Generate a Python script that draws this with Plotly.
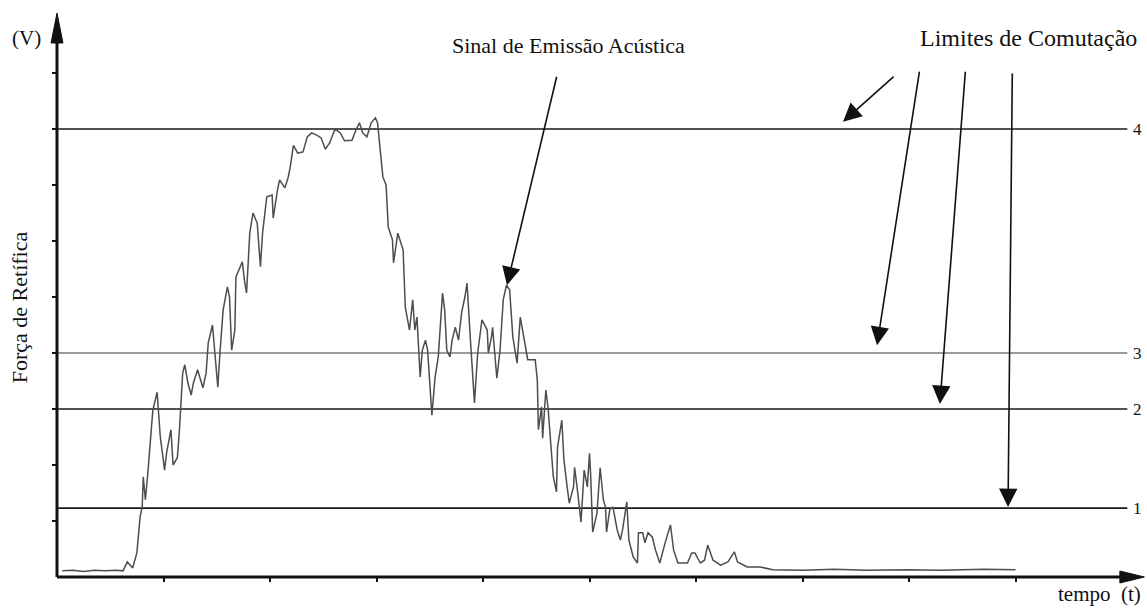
import plotly.graph_objects as go

# Rectified force signal (acoustic emission), time in arbitrary units, force in volts
tempo = [
    0.05, 0.15, 0.25, 0.35, 0.45, 0.55, 0.62, 0.66, 0.71, 0.75,
    0.78, 0.80, 0.81, 0.83, 0.85, 0.87, 0.90, 0.94, 0.95, 0.97,
    0.99, 1.01, 1.03, 1.07, 1.09, 1.13, 1.15, 1.16, 1.18, 1.20,
    1.23, 1.26, 1.28, 1.32, 1.37, 1.40, 1.42, 1.46, 1.48, 1.51,
    1.53, 1.56, 1.60, 1.62, 1.64, 1.67, 1.68, 1.74, 1.76, 1.78,
    1.81, 1.84, 1.88, 1.91, 1.93, 1.97, 2.02, 2.03, 2.07, 2.09,
    2.14, 2.17, 2.19, 2.22, 2.26, 2.31, 2.35, 2.39, 2.44, 2.48,
    2.52, 2.56, 2.61, 2.66, 2.70, 2.77, 2.80, 2.84, 2.87, 2.91,
    2.95, 2.99, 3.01, 3.03, 3.06, 3.09, 3.11, 3.15, 3.16, 3.20,
    3.25, 3.27, 3.31, 3.34, 3.36, 3.38, 3.41, 3.43, 3.46, 3.48,
    3.52, 3.55, 3.58, 3.62, 3.64, 3.66, 3.69, 3.71, 3.74, 3.77,
    3.80, 3.83, 3.85, 3.88, 3.92, 3.95, 3.99, 4.04, 4.05, 4.08,
    4.09, 4.13, 4.16, 4.19, 4.22, 4.25, 4.28, 4.30, 4.32, 4.35,
    4.38, 4.42, 4.49, 4.51, 4.52, 4.55, 4.56, 4.59, 4.61, 4.65,
    4.66, 4.69, 4.70, 4.74, 4.76, 4.79, 4.81, 4.85, 4.86, 4.89,
    4.92, 4.95, 4.98, 5.00, 5.01, 5.03, 5.07, 5.10, 5.13, 5.15,
    5.16, 5.19, 5.22, 5.26, 5.29, 5.31, 5.35, 5.37, 5.41, 5.45,
    5.46, 5.50, 5.52, 5.55, 5.59, 5.62, 5.66, 5.71, 5.76, 5.79,
    5.83, 5.92, 5.96, 5.99, 6.04, 6.08, 6.11, 6.16, 6.23, 6.30,
    6.36, 6.39, 6.48, 6.60, 6.72, 7.00, 7.30, 7.60, 8.00, 8.30,
    8.70, 9.00,
]
forca = [
    0.11, 0.12, 0.10, 0.12, 0.11, 0.12, 0.11, 0.27, 0.16, 0.43,
    1.07, 1.25, 1.79, 1.38, 1.79, 2.27, 2.98, 3.30, 2.98, 2.50,
    2.21, 1.91, 2.23, 2.63, 2.00, 2.13, 2.63, 3.04, 3.64, 3.79,
    3.46, 3.25, 3.46, 3.70, 3.38, 3.64, 4.18, 4.50, 4.05, 3.39,
    4.00, 4.77, 5.18, 5.00, 4.05, 4.41, 5.36, 5.63, 5.30, 5.07,
    6.14, 6.50, 6.32, 5.54, 6.14, 6.79, 6.82, 6.41, 6.91, 7.09,
    6.95, 7.13, 7.32, 7.71, 7.57, 7.59, 7.86, 7.93, 7.89, 7.84,
    7.64, 7.75, 8.00, 7.93, 7.79, 7.80, 7.95, 8.11, 7.93, 7.86,
    8.11, 8.20, 8.11, 7.75, 7.14, 7.00, 6.25, 6.02, 5.61, 6.14,
    5.84, 4.82, 4.41, 4.95, 4.41, 4.64, 3.57, 4.05, 4.23, 4.05,
    2.89, 3.57, 3.93, 5.07, 4.77, 4.05, 3.93, 4.23, 4.46, 4.23,
    4.73, 5.00, 5.25, 4.29, 3.11, 4.00, 4.59, 4.41, 4.00, 4.29,
    4.46, 3.55, 4.05, 4.95, 5.21, 5.13, 4.29, 4.05, 3.82, 4.64,
    4.29, 3.88, 3.88, 3.52, 2.63, 3.04, 2.48, 3.34, 3.04, 2.14,
    1.79, 1.52, 2.32, 2.80, 2.09, 1.61, 1.32, 1.61, 1.96, 1.50,
    0.98, 1.91, 1.61, 2.21, 1.86, 0.80, 1.14, 1.95, 1.38, 1.25,
    0.80, 1.20, 1.25, 0.84, 0.66, 0.84, 1.34, 0.66, 0.36, 0.25,
    0.79, 0.79, 0.61, 0.79, 0.71, 0.48, 0.25, 0.61, 0.93, 0.48,
    0.25, 0.25, 0.43, 0.43, 0.25, 0.30, 0.57, 0.30, 0.21, 0.27,
    0.45, 0.27, 0.18, 0.18, 0.13, 0.12, 0.14, 0.12, 0.13, 0.12,
    0.14, 0.13,
]
assert len(tempo) == len(forca)

# Switching limits (levels and their labels)
limites_nivel = [1.23, 3.0, 4.0, 8.0]
limites_rotulo = ["1", "2", "3", "4"]
limites_cor = ["#1a1a1a", "#1a1a1a", "#7a7a7a", "#1a1a1a"]
limite_fim = 10.05

tick_pos = [1, 2, 3, 4, 5, 6, 7, 8, 9]

W, H = 1147, 608
X_RANGE = [-0.5352, 10.2347]
Y_RANGE = [-0.5536, 10.3036]
SERIF = "Liberation Serif, Times New Roman, serif"

fig = go.Figure()

for nivel, cor in zip(limites_nivel, limites_cor):
    fig.add_trace(go.Scatter(
        x=[0, limite_fim], y=[nivel, nivel], mode="lines",
        line=dict(color=cor, width=1.6), hoverinfo="skip", showlegend=False,
    ))

fig.add_trace(go.Scatter(
    x=tempo, y=forca, mode="lines",
    line=dict(color="#4d4d4d", width=1.5), showlegend=False,
))

annotations = []
for nivel, rot in zip(limites_nivel, limites_rotulo):
    annotations.append(dict(
        x=10.15, y=nivel, xref="x", yref="y", text=rot, showarrow=False,
        font=dict(family=SERIF, size=17, color="#111"),
        xanchor="center", yanchor="middle",
    ))

texts = [
    ("(V)", -0.282, 9.63, 21, 0),
    ("Força de Retífica", -0.355, 4.82, 22, -90),
    ("Sinal de Emissão Acústica", 4.80, 9.50, 22, 0),
    ("Limites de Comutação", 9.125, 9.63, 24, 0),
    ("tempo  (t)", 9.79, -0.30, 21, 0),
]
for txt, x, y, size, ang in texts:
    annotations.append(dict(
        x=x, y=y, xref="x", yref="y", text=txt, showarrow=False,
        textangle=ang, font=dict(family=SERIF, size=size, color="#111"),
        xanchor="center", yanchor="middle", borderpad=0,
    ))

# Pointer arrows: (tip x, tip y, tail x, tail y)
setas = [
    (4.225, 5.21, 4.695, 8.96),
    (7.38, 8.13, 7.87, 8.96),
    (7.70, 4.14, 8.10, 9.05),
    (8.29, 3.09, 8.53, 9.05),
    (8.93, 1.25, 8.97, 9.02),
]
for tx, ty, sx, sy in setas:
    annotations.append(dict(
        x=tx, y=ty, ax=sx, ay=sy, xref="x", yref="y", axref="x", ayref="y",
        text="", showarrow=True, arrowhead=2, arrowsize=2.3, arrowwidth=1.6,
        arrowcolor="#111", standoff=0,
    ))

shapes = [
    # axes with arrowheads
    dict(type="line", x0=0, y0=0, x1=0, y1=9.6, xref="x", yref="y",
         line=dict(color="#111", width=3)),
    dict(type="line", x0=0, y0=0, x1=10.0, y1=0, xref="x", yref="y",
         line=dict(color="#111", width=3)),
    dict(type="path", xref="x", yref="y",
         path="M 0,10.07 L -0.056,9.536 L 0.056,9.536 Z",
         fillcolor="#111", line=dict(color="#111", width=1)),
    dict(type="path", xref="x", yref="y",
         path="M 10.21,0 L 9.98,0.107 L 9.98,-0.107 Z",
         fillcolor="#111", line=dict(color="#111", width=1)),
]

fig.update_layout(
    width=W, height=H,
    margin=dict(l=0, r=0, t=0, b=0),
    paper_bgcolor="white", plot_bgcolor="white",
    showlegend=False,
    xaxis=dict(range=X_RANGE, showgrid=False, zeroline=False, showline=False,
               tickvals=tick_pos, ticks="outside", ticklen=4, tickwidth=2,
               tickcolor="#111", showticklabels=False,
               anchor="free", position=31 / 608),
    yaxis=dict(range=Y_RANGE, showgrid=False, zeroline=False, showline=False,
               tickvals=tick_pos, ticks="outside", ticklen=5, tickwidth=2,
               tickcolor="#111", showticklabels=False,
               anchor="free", position=57 / 1147),
    annotations=annotations,
    shapes=shapes,
)

fig.write_html("out.html", config={"displayModeBar": False})
